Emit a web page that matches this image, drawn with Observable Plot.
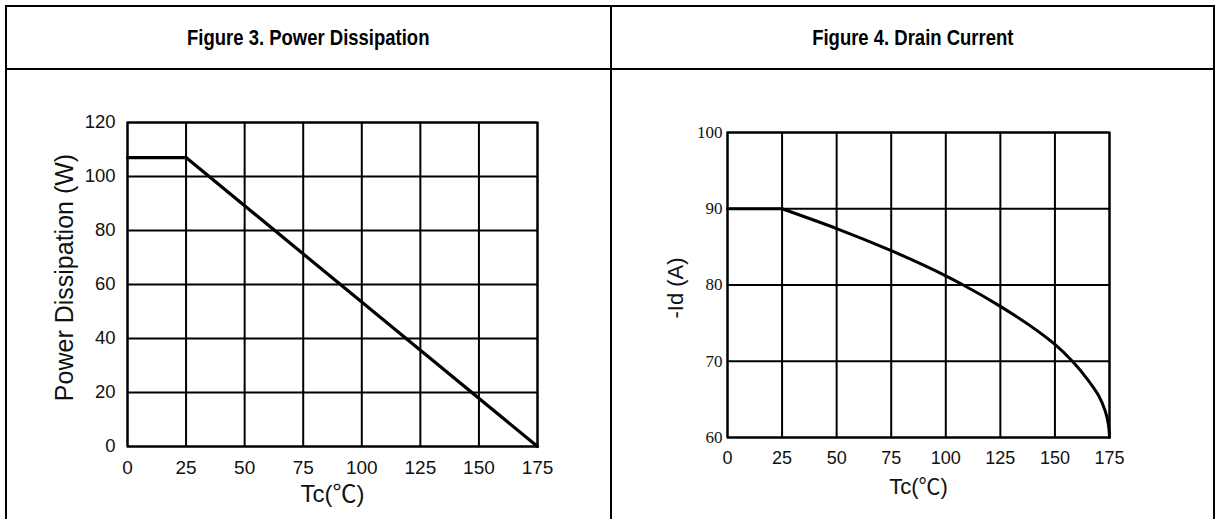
<!DOCTYPE html>
<html>
<head>
<meta charset="utf-8">
<script src="https://cdn.jsdelivr.net/npm/d3@7"></script>
<script src="https://cdn.jsdelivr.net/npm/@observablehq/plot@0.6"></script>
<style>
  html, body { margin: 0; padding: 0; background: #fff; }
  #page { position: relative; width: 1215px; height: 519px; overflow: hidden; font-family: "Liberation Sans", Arial, sans-serif; }
  .b { position: absolute; background: #000; z-index: 5; }
  .title { position: absolute; top: 7px; height: 61px; display: flex; align-items: center; justify-content: center; font-weight: bold; font-size: 22px; color: #000; z-index: 4; }
  .title span { display: inline-block; transform: scaleX(0.84); white-space: nowrap; }
  .chart { position: absolute; top: 71px; }
</style>
</head>
<body>
<div id="page">
  <div class="title" style="left:7px;width:603px;"><span>Figure 3. Power Dissipation</span></div>
  <div class="title" style="left:612px;width:601px;"><span>Figure 4. Drain Current</span></div>
  <div class="chart" id="c1" style="left:0px;"></div>
  <div class="chart" id="c2" style="left:612px;"></div>
  <div class="b" style="left:5px;top:5px;width:1210px;height:2px;"></div>
  <div class="b" style="left:5px;top:68px;width:1210px;height:2px;"></div>
  <div class="b" style="left:5px;top:5px;width:2px;height:514px;"></div>
  <div class="b" style="left:610px;top:5px;width:2px;height:514px;"></div>
  <div class="b" style="left:1213px;top:5px;width:2px;height:514px;"></div>
</div>
<script>
// ---- Data ----
const tcTicks = [0, 25, 50, 75, 100, 125, 150, 175];
const pdTicks = [0, 20, 40, 60, 80, 100, 120];
const idTicks = [60, 70, 80, 90, 100];

// Figure 3: Power dissipation vs case temperature
const pdTc = [0, 25, 175];
const pdWatts = [107, 107, 0];

// Figure 4: Drain current vs case temperature
const idTc = [0, 25, 50, 75, 100, 108, 125, 150, 158, 165, 170, 173, 174.5, 175];
const idAmps = [90, 90, 87.4, 84.5, 81.2, 80, 77.2, 72.2, 70, 67.6, 65.5, 63.5, 61.7, 60];

const pdData = pdTc.map((t, i) => ({tc: t, p: pdWatts[i]}));
const idData = idTc.map((t, i) => ({tc: t, id: idAmps[i]}));

const sans = "Liberation Sans, Arial, sans-serif";
const sansDeg = "Liberation Sans, Noto Sans CJK SC, sans-serif";
const serif = "Liberation Serif, Times New Roman, serif";

const chart1 = Plot.plot({
  width: 610,
  height: 448,
  marginLeft: 127,
  marginRight: 73,
  marginTop: 51,
  marginBottom: 73,
  style: {background: "transparent", overflow: "visible", fontFamily: sans},
  x: {domain: [0, 175]},
  y: {domain: [0, 120]},
  marks: [
    Plot.ruleX(tcTicks, {stroke: "#000", strokeWidth: 2}),
    Plot.ruleY(pdTicks, {stroke: "#000", strokeWidth: 2}),
    Plot.frame({stroke: "#000", strokeWidth: 2}),
    Plot.line(pdData, {x: "tc", y: "p", stroke: "#000", strokeWidth: 3.2}),
    Plot.axisX({ticks: tcTicks, tickSize: 0, tickPadding: 14, fontSize: 19, color: "#111", label: null}),
    Plot.axisY({ticks: pdTicks, tickSize: 0, tickPadding: 12, fontSize: 18.5, color: "#111", label: null}),
    Plot.text(["Power Dissipation (W)"], {frameAnchor: "left", rotate: -90, dx: -63, dy: -7, fontSize: 25, fill: "#111", textAnchor: "middle"}),
    Plot.text(["Tc(\u2103)"], {frameAnchor: "bottom", dy: 55, fontSize: 24, fill: "#111", textAnchor: "middle", fontFamily: sansDeg})
  ]
});
document.getElementById("c1").appendChild(chart1);

const chart2 = Plot.plot({
  width: 603,
  height: 448,
  marginLeft: 115,
  marginRight: 106,
  marginTop: 61,
  marginBottom: 82,
  style: {background: "transparent", overflow: "visible", fontFamily: sans},
  x: {domain: [0, 175]},
  y: {domain: [60, 100]},
  marks: [
    Plot.ruleX(tcTicks, {stroke: "#000", strokeWidth: 2}),
    Plot.ruleY(idTicks, {stroke: "#000", strokeWidth: 2}),
    Plot.frame({stroke: "#000", strokeWidth: 2}),
    Plot.line(idData.slice(0, 2), {x: "tc", y: "id", stroke: "#000", strokeWidth: 3}),
    Plot.line(idData.slice(1), {x: "tc", y: "id", stroke: "#000", strokeWidth: 3, curve: "monotone-y"}),
    Plot.axisX({ticks: tcTicks, tickSize: 0, tickPadding: 14, fontSize: 18, color: "#111", label: null}),
    Plot.axisY({ticks: idTicks, tickSize: 0, tickPadding: 5, fontSize: 17, fontFamily: serif, color: "#111", label: null}),
    Plot.text(["-Id (A)"], {frameAnchor: "left", rotate: -90, dx: -52, dy: 3, fontSize: 22, fill: "#111", textAnchor: "middle"}),
    Plot.text(["Tc(\u2103)"], {frameAnchor: "bottom", dy: 56, fontSize: 22, fill: "#111", textAnchor: "middle", fontFamily: sansDeg})
  ]
});
document.getElementById("c2").appendChild(chart2);
</script>
</body>
</html>
